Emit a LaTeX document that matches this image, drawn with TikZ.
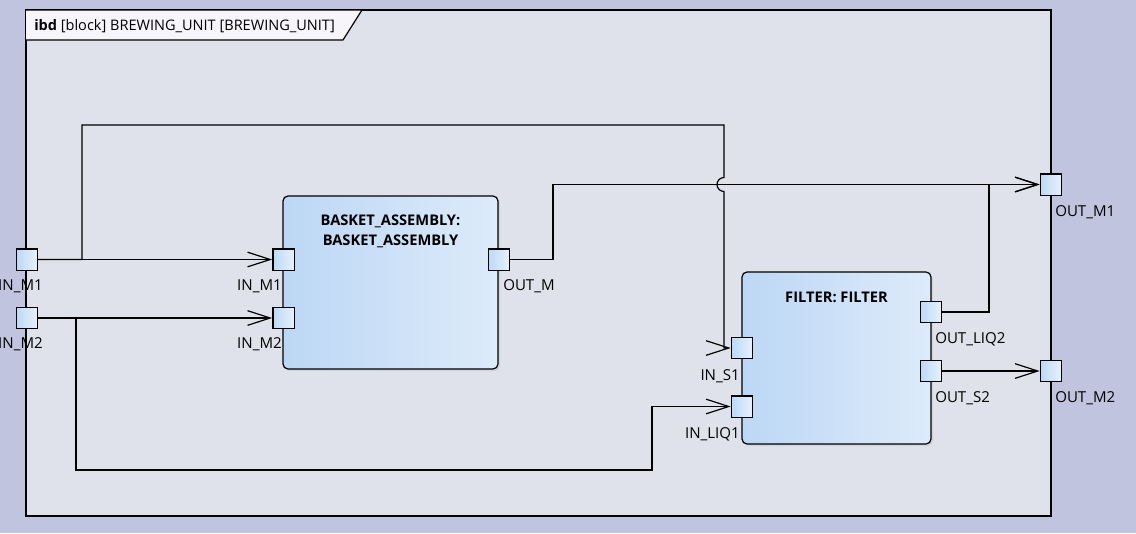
\documentclass[tikz,border=0pt]{standalone}
\usepackage{fontspec}
\setmainfont{Open Sans}
\usetikzlibrary{arrows.meta,calc,shadows}

\definecolor{bgout}{HTML}{C0C4DF}
\definecolor{bgin}{HTML}{E0E2EB}
\definecolor{tabfill}{HTML}{F7F5F9}
\definecolor{blockL}{HTML}{BCD7F5}
\definecolor{blockR}{HTML}{DDEBFA}
\definecolor{portL}{HTML}{BBD9F6}
\definecolor{portR}{HTML}{E8F1FC}

\begin{document}
\begin{tikzpicture}[x=0.75pt, y=-0.75pt, >={Straight Barb[length=17pt, width=11pt]}]

% ---------- styles ----------
\tikzset{
  port/.style={draw, line width=1pt, left color=portL, right color=portR,
    minimum size=16pt, inner sep=0pt},
  blockbox/.style={draw, line width=0.9pt, rounded corners=3.75pt,
    left color=blockL, right color=blockR,
    drop shadow={opacity=0.15, shadow xshift=1.5pt, shadow yshift=-1.5pt}},
  conn/.style={->, line width=0.9pt},
  plabel/.style={font=\fontsize{11.3}{13}\selectfont, inner sep=0pt},
  btitle/.style={font=\fontsize{11}{15}\selectfont\bfseries, align=center, inner sep=0pt}
}

% ---------- background and frame ----------
\fill[bgout] (0,0) rectangle (1136,533);
\useasboundingbox (0,0) rectangle (1136,533);
\draw[line width=1.2pt, fill=bgin,
  drop shadow={opacity=0.3, shadow xshift=1pt, shadow yshift=-1pt}] (26,10) rectangle (1051,516);
\draw[line width=0.9pt, fill=tabfill] (26,10) -- (362,10) -- (343,40) -- (26,40);
\node[plabel, font=\fontsize{10.9}{13}\selectfont, anchor=west] (title) at (34,26)
  {\textbf{ibd} [block] BREWING\_UNIT [BREWING\_UNIT]};

% ---------- blocks ----------
\node[blockbox, minimum width=161.25pt, minimum height=129.75pt] (basket) at (390.5,282.5) {};
\node[btitle] (baskettitle) at (390.5,231) {BASKET\_ASSEMBLY:\\BASKET\_ASSEMBLY};

\node[blockbox, minimum width=141.75pt, minimum height=129pt] (filter) at (836.5,358) {};
\node[btitle] (filtertitle) at (836.5,297) {FILTER: FILTER};

% ---------- ports ----------
\node[port] (fIN1) at (27,259.5) {};
\node[port] (fIN2) at (27,318) {};
\node[port] (fOUT1) at (1051,184.5) {};
\node[port] (fOUT2) at (1051,371) {};

\node[port] (bIN1) at (283.5,259.5) {};
\node[port] (bIN2) at (283.5,318) {};
\node[port] (bOUT) at (499,259.5) {};

\node[port] (fIS1) at (742,348) {};
\node[port] (fIL1) at (742,406.5) {};
\node[port] (fOL2) at (931,312) {};
\node[port] (fOS2) at (931,371) {};

% ---------- port labels ----------
\node[plabel, anchor=east] at (43,286) {IN\_M1};
\node[plabel, anchor=east] at (43,344) {IN\_M2};
\node[plabel, anchor=west] at (1055,212) {OUT\_M1};
\node[plabel, anchor=west] at (1055,398) {OUT\_M2};
\node[plabel, anchor=east] at (282,286) {IN\_M1};
\node[plabel, anchor=east] at (282,344) {IN\_M2};
\node[plabel, anchor=west] at (503,286) {OUT\_M};
\node[plabel, anchor=east] at (740,376) {IN\_S1};
\node[plabel, anchor=east] at (740,434) {IN\_LIQ1};
\node[plabel, anchor=west] at (935,339) {OUT\_LIQ2};
\node[plabel, anchor=west] at (935,398) {OUT\_S2};

% ---------- bend points ----------
\coordinate (hopx) at (724,125);
\coordinate (bendA) at (553,0);
\coordinate (bendB) at (989,0);
\coordinate (bendC) at (652,0);

% ---------- connectors ----------
\draw[conn] (fIN1.east) -- (bIN1.west);
\draw[conn] (fIN2.east) -- (bIN2.west);
\draw[conn] (fIN1.east) -| (82,125) -- (hopx)
  -- ($(hopx |- fOUT1.west)+(0,-7)$) arc[start angle=90, end angle=270, radius=5.25pt]
  -- ($(hopx |- fIS1.west)$) -- (fIS1.west);
\draw[conn] (fIN2.east) -| (76,470) -| (bendC |- fIL1.west) -- (fIL1.west);
\draw[conn] (bOUT.east) -| (bendA |- fOUT1.west) -- (fOUT1.west);
\draw[conn] (fOL2.east) -| (bendB |- fOUT1.west) -- (fOUT1.west);
\draw[conn] (fOS2.east) -- (fOUT2.west);

\end{tikzpicture}
\end{document}
